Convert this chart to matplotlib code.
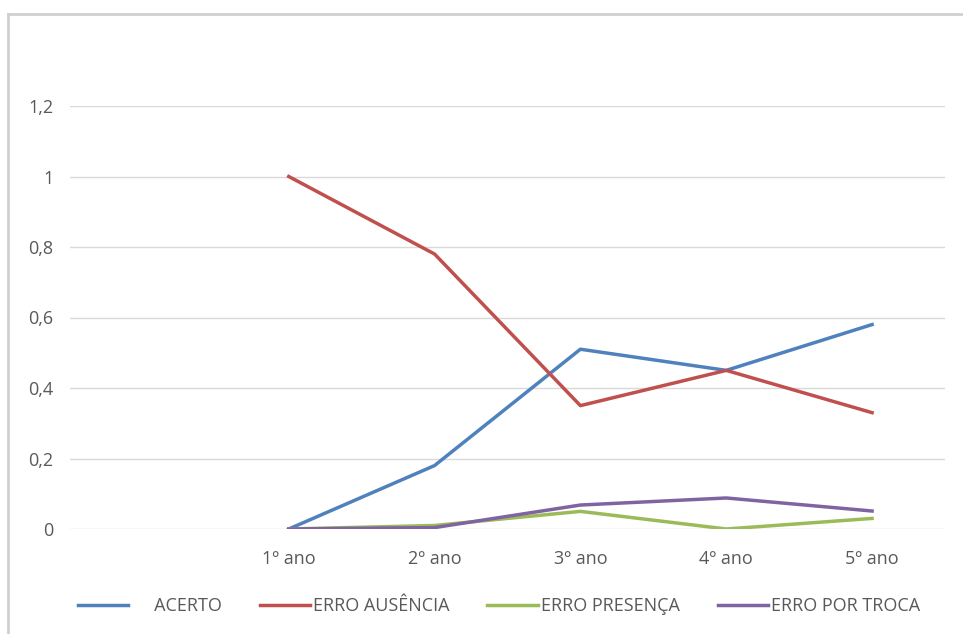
import numpy as np
import matplotlib.pyplot as plt
from matplotlib.lines import Line2D

# categories (first slot is empty in the original chart)
anos = ["", "1º ano", "2º ano", "3º ano", "4º ano", "5º ano"]
acerto = [np.nan, 0.0, 0.18, 0.51, 0.45, 0.58]
erro_ausencia = [np.nan, 1.0, 0.78, 0.35, 0.45, 0.33]
erro_presenca = [np.nan, 0.0, 0.01, 0.05, 0.0, 0.03]
erro_troca = [np.nan, 0.0, 0.004, 0.068, 0.088, 0.051]
yticks = [0, 0.2, 0.4, 0.6, 0.8, 1.0, 1.2]
ylabels = ["0", "0,2", "0,4", "0,6", "0,8", "1", "1,2"]

plt.rcParams['font.family'] = ['Open Sans', 'DejaVu Sans']

fig = plt.figure(figsize=(9.63, 6.34), dpi=100)
ax = fig.add_axes([70/963, 105/634, 875/963, 423/634])

x = np.arange(len(anos))
ax.plot(x, acerto, color='#4F81BD', lw=2.5, label='     ACERTO')
ax.plot(x, erro_ausencia, color='#C0504D', lw=2.5, label='ERRO AUSÊNCIA')
ax.plot(x, erro_presenca, color='#9BBB59', lw=2.5, label='ERRO PRESENÇA')
ax.plot(x, erro_troca, color='#8064A2', lw=2.5, label='ERRO POR TROCA')

ax.set_xlim(-0.5, len(anos) - 0.5)
ax.set_ylim(0, 1.2)
ax.set_xticks(x)
ax.set_xticklabels(anos)
ax.set_yticks(yticks)
ax.set_yticklabels(ylabels)
ax.tick_params(length=0, labelsize=13, colors='#595959', pad=15)
ax.tick_params(axis='y', pad=12)
ax.grid(axis='y', color='#D9D9D9', lw=1)
ax.set_axisbelow(True)
for s in ax.spines.values():
    s.set_visible(False)

leg = fig.legend(loc='center', bbox_to_anchor=(0.518, 28/634), ncol=4,
                 frameon=False, fontsize=13, handlelength=2.8, columnspacing=2.1,
                 handletextpad=0.15)
for t in leg.get_texts():
    t.set_color('#595959')

# outer frame (top and left edges visible)
fig.add_artist(Line2D([8/963, 1], [1 - 14/634, 1 - 14/634], color='#D0D0D0', lw=2))
fig.add_artist(Line2D([8/963, 8/963], [0, 1 - 14/634], color='#D0D0D0', lw=2))

fig.savefig('out.png', dpi=100)
